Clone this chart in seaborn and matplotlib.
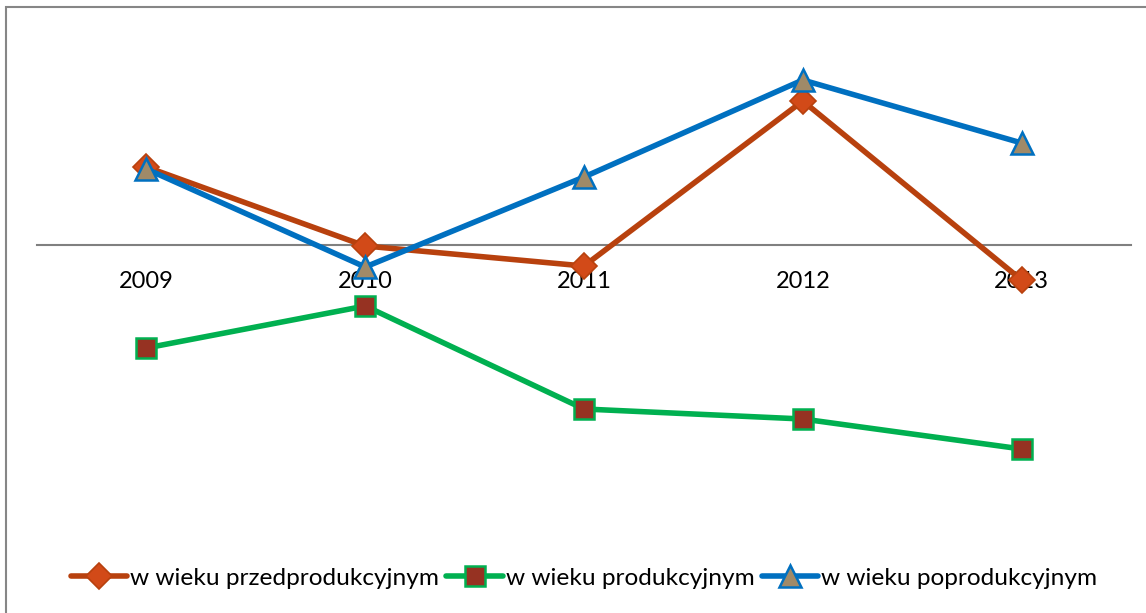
import matplotlib
matplotlib.use("Agg")
import matplotlib.pyplot as plt
import matplotlib.patches as mpatches
import seaborn as sns
import pandas as pd

years = ["2009", "2010", "2011", "2012", "2013"]
przed = [7.8, -0.1, -2.1, 14.4, -3.5]
prod = [-10.3, -6.1, -16.4, -17.4, -20.4]
popro = [7.6, -2.2, 6.8, 16.5, 10.2]
labels = ["w wieku przedprodukcyjnym", "w wieku produkcyjnym", "w wieku poprodukcyjnym"]

sns.set_theme(style="white")
plt.rcParams["font.family"] = ["Lato", "DejaVu Sans"]

W, H = 1146, 613
fig = plt.figure(figsize=(W / 100, H / 100), dpi=100)
ax = fig.add_axes([37 / W, 1 - 540 / H, 1094 / W, 520 / H])

df = pd.DataFrame({"rok": years * 3,
                   "wartosc": przed + prod + popro,
                   "seria": [labels[0]] * 5 + [labels[1]] * 5 + [labels[2]] * 5})

styles = [
    dict(color="#B8410E", marker="D", markersize=13, markerfacecolor="#D24A18", markeredgecolor="#B8410E", markeredgewidth=1.2),
    dict(color="#00B050", marker="s", markersize=14.5, markerfacecolor="#963222", markeredgecolor="#00B050", markeredgewidth=1.8),
    dict(color="#0070C0", marker="^", markersize=16, markerfacecolor="#A08A68", markeredgecolor="#0070C0", markeredgewidth=1.8),
]
for lab, st in zip(labels, styles):
    sub = df[df["seria"] == lab]
    sns.lineplot(data=sub, x="rok", y="wartosc", ax=ax, sort=False, linewidth=4.0,
                 label=lab, **st)

ax.set_xlim(-0.5, 4.5)
ax.set_ylim(-29.5, 22.5)
ax.set_xlabel("")
ax.set_ylabel("")
ax.set_yticks([])
for s in ["top", "left", "right"]:
    ax.spines[s].set_visible(False)
ax.spines["bottom"].set_position(("data", 0))
ax.spines["bottom"].set_color("#808080")
ax.spines["bottom"].set_linewidth(1.5)
ax.spines["bottom"].set_zorder(0)
ax.tick_params(axis="x", length=0, pad=19, labelsize=17, colors="black")
ax.set_facecolor("none")

leg = ax.legend(loc="center", bbox_to_anchor=(0.5, (1 - 578 / H - (1 - 540 / H)) / (520 / H)),
                ncol=3, frameon=False, fontsize=17.6, handlelength=2.3,
                handletextpad=0.12, columnspacing=0.3, borderaxespad=0)
for t in leg.get_texts():
    t.set_color("black")

fig.patches.append(mpatches.Rectangle((6 / W, -0.1), 1.2, 1 - 7 / H + 0.1,
                                      transform=fig.transFigure, fill=False,
                                      edgecolor="#868686", linewidth=1.5))

fig.savefig("out.png", dpi=100, facecolor="white")
